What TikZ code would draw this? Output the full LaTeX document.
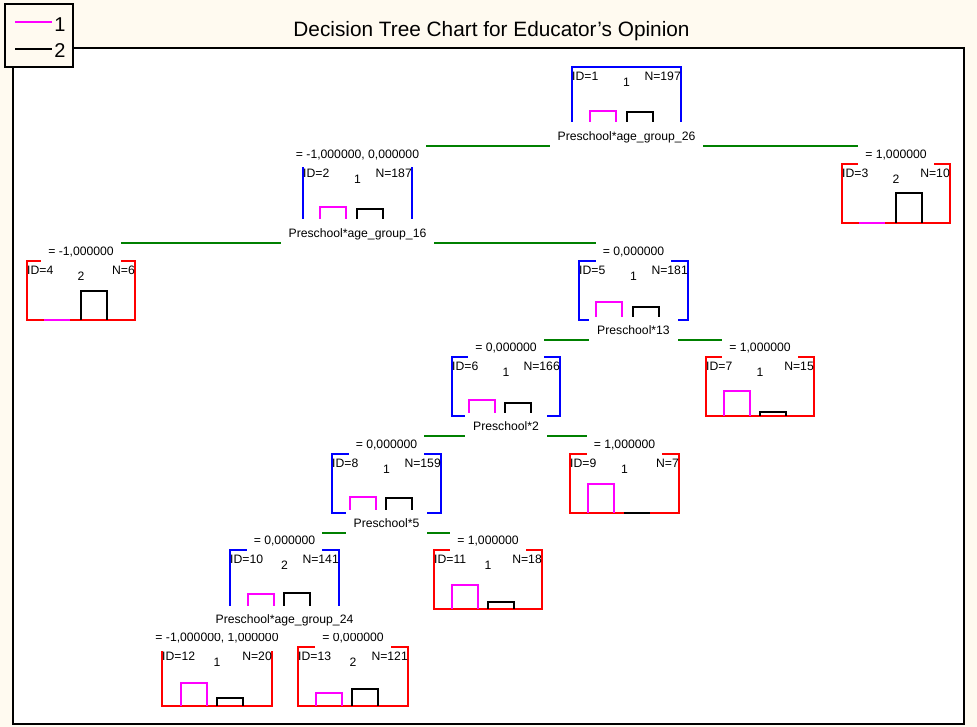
\documentclass[tikz,border=0pt]{standalone}
\usepackage{fontspec}
\setmainfont{Liberation Sans}

\definecolor{cream}{RGB}{255,250,240}
\definecolor{branchgreen}{RGB}{0,128,0}
\definecolor{splitblue}{RGB}{0,0,255}
\definecolor{leafred}{RGB}{255,0,0}
\definecolor{classone}{RGB}{255,0,255}

\tikzset{
  splitbox/.style={draw=splitblue, line width=2pt, minimum height=59pt, inner sep=0pt, outer sep=0pt},
  leafbox/.style={draw=leafred, line width=2pt, minimum height=59pt, inner sep=0pt, outer sep=0pt},
  barone/.style={draw=classone, line width=2pt},
  bartwo/.style={draw=black, line width=2pt},
  branch/.style={draw=branchgreen, line width=2pt},
  small/.style={font=\fontsize{12.2}{14}\selectfont, text height=8.6pt, text depth=0pt, inner sep=0pt},
  cond/.style={small, fill=white, inner xsep=7pt, minimum height=26pt},
  splitlabel/.style={small, fill=white, inner xsep=8pt, minimum height=27pt},
}

% class histogram of a node: magenta bar (class 1) and black bar (class 2)
\newcommand{\classbars}[5]{%
  \draw[barone] (#2,0 |- #1.south) -- (#2,#3) -- (#2+26,#3) -- (#2+26,0 |- #1.south);
  \draw[bartwo] (#4,0 |- #1.south) -- (#4,#5) -- (#4+26,#5) -- (#4+26,0 |- #1.south);
}
% ID, predicted class and count printed inside a node
\newcommand{\nodetexts}[4]{%
  \node[small, anchor=west] (#1id) at ([yshift=-9pt]#1.north west) {ID=#3};
  \node[small, anchor=east] (#1n) at ([yshift=-9pt]#1.north east) {N=#4};
  \node[small] (#1c) at ([yshift=-15.5pt]#1.north) {#2};
}

\begin{document}
\begin{tikzpicture}[x=1pt, y=-1pt]
  \fill[cream] (0,0) rectangle (977,727);
  \useasboundingbox (0,0) rectangle (977,727);

  % plot frame and title
  \draw[line width=2pt, fill=white] (13,48) rectangle (964,724);
  \node[font=\fontsize{20.8}{24}\selectfont, inner sep=0pt] (title) at (491.5,31) {Decision Tree Chart for Educator’s Opinion};

  % legend
  \draw[line width=1.5pt, fill=cream] (5,4) rectangle (73,67);
  \draw[barone] (15,22) -- (52,22);
  \draw[bartwo] (15,49) -- (52,49);
  \node[font=\fontsize{20}{24}\selectfont, inner sep=0pt] (leg1) at (60,24.5) {1};
  \node[font=\fontsize{20}{24}\selectfont, inner sep=0pt] (leg2) at (60,50.5) {2};

  % tree nodes
  \node[splitbox, minimum width=109pt] (n1)  at (626.5,96.5) {};
  \node[splitbox, minimum width=109pt] (n2)  at (357.5,193.5) {};
  \node[leafbox,  minimum width=108pt] (n3)  at (896,193.5) {};
  \node[leafbox,  minimum width=108pt] (n4)  at (81,290.5) {};
  \node[splitbox, minimum width=109pt] (n5)  at (633.5,290.5) {};
  \node[splitbox, minimum width=108pt] (n6)  at (506,386.5) {};
  \node[leafbox,  minimum width=108pt] (n7)  at (760,386.5) {};
  \node[splitbox, minimum width=109pt] (n8)  at (386.5,483.5) {};
  \node[leafbox,  minimum width=109pt] (n9)  at (624.5,483.5) {};
  \node[splitbox, minimum width=109pt] (n10) at (284.5,579.5) {};
  \node[leafbox,  minimum width=108pt] (n11) at (488,579.5) {};
  \node[leafbox,  minimum width=110pt] (n12) at (217,676.5) {};
  \node[leafbox,  minimum width=110pt] (n13) at (353,676.5) {};

  % class histograms
  \classbars{n1}{590}{111}{627}{112}
  \classbars{n2}{320}{207}{357}{209}
  \classbars{n3}{859}{223}{896}{193}
  \classbars{n4}{44}{320}{81}{291}
  \classbars{n5}{596}{302}{633}{307}
  \classbars{n6}{469}{400}{505}{403}
  \classbars{n7}{724}{391}{760}{412}
  \classbars{n8}{350}{497}{386}{498}
  \classbars{n9}{588}{484}{624}{513}
  \classbars{n10}{248}{594}{284}{593}
  \classbars{n11}{452}{585}{488}{602}
  \classbars{n12}{181}{683}{217}{698}
  \classbars{n13}{316}{693}{352}{689}

  % branches
  \foreach \p/\l/\r in {n1/n2/n3, n2/n4/n5, n5/n6/n7, n6/n8/n9, n8/n10/n11, n10/n12/n13}{
    \coordinate (g\p) at ([yshift=-20pt]\p.south);
    \draw[branch] (g\p -| \l) -- (g\p -| \r);
  }

  % split conditions above the children
  \node[cond] (c2)  at ([yshift=9.5pt]n2.north)  {= -1,000000, 0,000000};
  \node[cond] (c3)  at ([yshift=9.5pt]n3.north)  {= 1,000000};
  \node[cond] (c4)  at ([yshift=9.5pt]n4.north)  {= -1,000000};
  \node[cond] (c5)  at ([yshift=9.5pt]n5.north)  {= 0,000000};
  \node[cond] (c6)  at ([yshift=9.5pt]n6.north)  {= 0,000000};
  \node[cond] (c7)  at ([yshift=9.5pt]n7.north)  {= 1,000000};
  \node[cond] (c8)  at ([yshift=9.5pt]n8.north)  {= 0,000000};
  \node[cond] (c9)  at ([yshift=9.5pt]n9.north)  {= 1,000000};
  \node[cond] (c10) at ([yshift=9.5pt]n10.north) {= 0,000000};
  \node[cond] (c11) at ([yshift=9.5pt]n11.north) {= 1,000000};
  \node[cond] (c12) at ([yshift=9.5pt]n12.north) {= -1,000000, 1,000000};
  \node[cond] (c13) at ([yshift=9.5pt]n13.north) {= 0,000000};

  % split variables below the inner nodes
  \node[splitlabel] (s1)  at ([yshift=-10pt]n1.south)  {Preschool*age\_group\_26};
  \node[splitlabel] (s2)  at ([yshift=-10pt]n2.south)  {Preschool*age\_group\_16};
  \node[splitlabel] (s5)  at ([yshift=-10pt]n5.south)  {Preschool*13};
  \node[splitlabel] (s6)  at ([yshift=-10pt]n6.south)  {Preschool*2};
  \node[splitlabel] (s8)  at ([yshift=-10pt]n8.south)  {Preschool*5};
  \node[splitlabel] (s10) at ([yshift=-10pt]n10.south) {Preschool*age\_group\_24};

  % node captions
  \nodetexts{n1}{1}{1}{197}
  \nodetexts{n2}{1}{2}{187}
  \nodetexts{n3}{2}{3}{10}
  \nodetexts{n4}{2}{4}{6}
  \nodetexts{n5}{1}{5}{181}
  \nodetexts{n6}{1}{6}{166}
  \nodetexts{n7}{1}{7}{15}
  \nodetexts{n8}{1}{8}{159}
  \nodetexts{n9}{1}{9}{7}
  \nodetexts{n10}{2}{10}{141}
  \nodetexts{n11}{1}{11}{18}
  \nodetexts{n12}{1}{12}{20}
  \nodetexts{n13}{2}{13}{121}
\end{tikzpicture}
\end{document}
